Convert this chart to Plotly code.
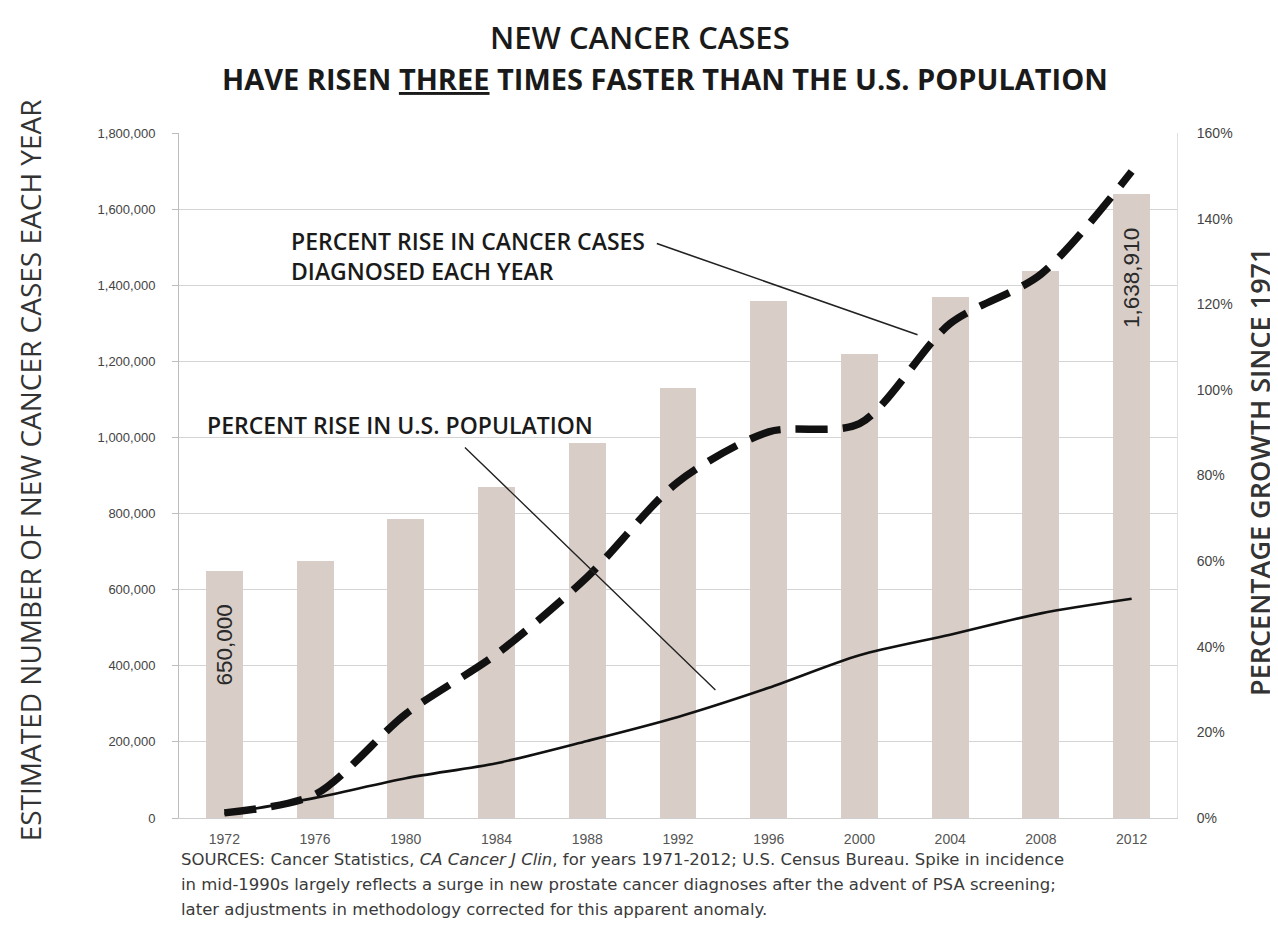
import plotly.graph_objects as go

# ---- data ----
years = [1972, 1976, 1980, 1984, 1988, 1992, 1996, 2000, 2004, 2008, 2012]
new_cases = [650000, 675000, 785000, 870000, 985000, 1130000, 1359150, 1220100, 1368030, 1437180, 1638910]
cancer_rise_pct = [1.2, 5.5, 24.3, 38.3, 56.3, 78.5, 90.2, 92.1, 115.5, 127.0, 151.0]
population_rise_pct = [1.0, 4.7, 9.3, 12.8, 18.0, 23.6, 30.4, 38.0, 42.8, 47.8, 51.2]
bar_labels = ["650,000", "", "", "", "", "", "", "", "", "", "1,638,910"]
left_ticks = [0, 200000, 400000, 600000, 800000, 1000000, 1200000, 1400000, 1600000, 1800000]
right_ticks = [0, 20, 40, 60, 80, 100, 120, 140, 160]

title = "NEW CANCER CASES"
subtitle = "HAVE RISEN <u>THREE</u> TIMES FASTER THAN THE U.S. POPULATION"
left_title = "ESTIMATED NUMBER OF NEW CANCER CASES EACH YEAR"
right_title = "PERCENTAGE GROWTH SINCE 1971"
cancer_note = "PERCENT RISE IN CANCER CASES<br>DIAGNOSED EACH YEAR"
pop_note = "PERCENT RISE IN U.S. POPULATION"
source_lines = [
    "SOURCES: Cancer Statistics, <i>CA Cancer J Clin</i>, for years 1971-2012; U.S. Census Bureau. Spike in incidence",
    "in mid-1990s largely reflects a surge in new prostate cancer diagnoses after the advent of PSA screening;",
    "later adjustments in methodology corrected for this apparent anomaly.",
]

TXT = "#2a2a2a"
GRID = "#d4d4d4"
BAR = "#d9cec7"
FONT = "Open Sans"
TICKFONT = "Liberation Sans"

fig = go.Figure()

fig.add_trace(go.Bar(
    x=years, y=new_cases, width=1.63,
    marker=dict(color=BAR, line=dict(width=0)),
    yaxis="y", showlegend=False, hoverinfo="skip",
))

fig.add_trace(go.Scatter(
    x=years, y=population_rise_pct, mode="lines",
    line=dict(color="#111111", width=2.6, shape="spline", smoothing=0.8),
    yaxis="y2", showlegend=False,
))

fig.add_trace(go.Scatter(
    x=years, y=cancer_rise_pct, mode="lines",
    line=dict(color="#111111", width=7.5, shape="spline", smoothing=0.8, dash="32px,15px"),
    yaxis="y2", showlegend=False,
))

annotations = []
# bar value labels
for yr, val, lab in zip(years, new_cases, bar_labels):
    if lab:
        annotations.append(dict(
            x=yr, y=val, xref="x", yref="y", text=lab, showarrow=False,
            textangle=-90, yanchor="top", xanchor="center", yshift=-32,
            font=dict(family=TICKFONT, size=22.5, color=TXT),
        ))

# titles
annotations.append(dict(x=0.462, y=1.140, xref="paper", yref="paper", text=title,
                        showarrow=False, xanchor="center", yanchor="middle",
                        font=dict(family=FONT, size=31, color="#1a1a1a", weight=600)))
annotations.append(dict(x=0.487, y=1.079, xref="paper", yref="paper", text=subtitle,
                        showarrow=False, xanchor="center", yanchor="middle",
                        font=dict(family=FONT, size=29, color="#1a1a1a", weight=700)))
# axis titles
annotations.append(dict(x=-0.149, y=0.508, xref="paper", yref="paper", text=left_title,
                        showarrow=False, textangle=-90, xanchor="center", yanchor="middle",
                        font=dict(family=FONT, size=28, color="#333333")))
annotations.append(dict(x=1.082, y=0.505, xref="paper", yref="paper", text=right_title,
                        showarrow=False, textangle=-90, xanchor="center", yanchor="middle",
                        font=dict(family=FONT, size=27, color="#333333", weight=600)))
# notes
annotations.append(dict(x=0.110, y=0.868, xref="paper", yref="paper", text=cancer_note,
                        showarrow=False, xanchor="left", yanchor="top", align="left",
                        font=dict(family=FONT, size=23, color="#1a1a1a", weight=600)))
annotations.append(dict(x=0.026, y=0.574, xref="paper", yref="paper", text=pop_note,
                        showarrow=False, xanchor="left", yanchor="middle", align="left",
                        font=dict(family=FONT, size=23, color="#1a1a1a", weight=600)))
# leader lines
annotations.append(dict(x=2002.56, y=112.9, xref="x", yref="y2",
                        ax=1991.0, ay=134.3, axref="x", ayref="y2", text="",
                        showarrow=True, arrowhead=0, arrowwidth=1.6, arrowcolor="#222222"))
annotations.append(dict(x=1993.65, y=29.9, xref="x", yref="y2",
                        ax=1982.54, ay=86.9, axref="x", ayref="y2", text="",
                        showarrow=True, arrowhead=0, arrowwidth=1.4, arrowcolor="#222222"))
# sources
for i, line in enumerate(source_lines):
    annotations.append(dict(x=0.0, y=-0.0605 - i * 0.0365, xref="paper", yref="paper",
                            text=line, showarrow=False, xanchor="left", yanchor="middle",
                            align="left", font=dict(family="DejaVu Sans", size=16.5, color="#3a3a3a")))

fig.update_layout(
    width=1278, height=943,
    margin=dict(l=171, r=109, t=125, b=133),
    paper_bgcolor="white", plot_bgcolor="white",
    bargap=0,
    xaxis=dict(
        range=[1970, 2014], tickmode="array", tickvals=years,
        ticktext=[str(y) for y in years],
        showgrid=False, zeroline=False,
        showline=True, linecolor="#cfcfcf", linewidth=1,
        ticks="", tickfont=dict(family=TICKFONT, size=14, color="#555555"),
        ticklabelstandoff=8,
    ),
    yaxis=dict(
        range=[0, 1800000], tickmode="array", tickvals=left_ticks,
        tickformat=",", showgrid=True, gridcolor=GRID, gridwidth=1,
        zeroline=False, showline=True, linecolor="#bdbdbd", linewidth=1,
        ticks="outside", ticklen=6, tickcolor="#bdbdbd",
        tickfont=dict(family=TICKFONT, size=13, color="#444444"),
        ticklabelstandoff=14,
    ),
    yaxis2=dict(
        range=[0, 160], overlaying="y", side="right", tickmode="array",
        tickvals=right_ticks, ticktext=[f"{v}%" for v in right_ticks],
        showgrid=False, zeroline=False,
        showline=True, linecolor="#e0e0e0", linewidth=1,
        ticks="", tickfont=dict(family=TICKFONT, size=14, color="#444444"),
        ticklabelstandoff=16,
    ),
    annotations=annotations,
)

fig.write_html("out.html")
